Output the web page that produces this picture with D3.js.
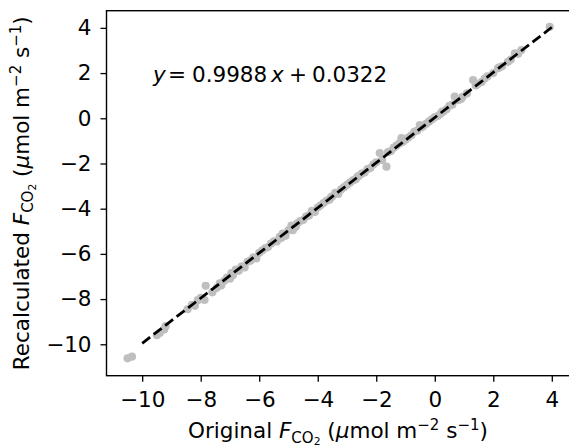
<!DOCTYPE html>
<html>
<head>
<meta charset="utf-8">
<script src="https://cdn.jsdelivr.net/npm/d3@7"></script>
<style>
  body { margin: 0; background: #fff; }
  svg { display: block; font-family: "DejaVu Sans", sans-serif; }
</style>
</head>
<body>
<svg id="chart" width="569" height="447"></svg>
<script>
// original vs recalculated flux
const origX = [
  -10.5, -10.35, -9.5, -9.4, -9.25, -9.2, -8.45, -8.3, -8.2, -8.1, -8.0,
  -7.83, -7.87, -7.6, -7.45, -7.35, -7.3, -7.2, -7.1, -7.0, -6.95, -6.9, -6.8,
  -6.7, -6.6, -6.5, -6.4, -6.3, -6.2, -6.1, -6.0, -5.9, -5.8, -5.7, -5.6,
  -5.5, -5.4, -5.3, -5.25, -5.2, -5.1, -5.0, -4.9, -4.85, -4.75, -4.7, -4.6, -4.5, -4.4,
  -4.3, -4.2, -4.1, -4.0, -3.9, -3.8, -3.7, -3.6, -3.55, -3.5, -3.4, -3.3, -3.2,
  -3.1, -3.0, -2.9, -2.8, -2.7, -2.65, -2.6, -2.5, -2.4, -2.3, -2.2, -2.1, -2.0,
  -1.88, -1.8, -1.65, -1.6, -1.5, -1.4, -1.3, -1.2, -1.14, -1.1, -1.0, -0.9,
  -0.8, -0.7, -0.6, -0.51, -0.45, -0.4, -0.3, -0.2, -0.1, 0.0, 0.1, 0.2, 0.25, 0.3,
  0.4, 0.5, 0.6, 0.68, 0.8, 0.9, 0.95, 1.1, 1.31, 1.4, 1.45, 1.6, 1.7, 1.8, 2.0, 2.16,
  2.2, 2.3, 2.5, 2.6, 2.74, 2.85, 2.96, 3.93
];
const recalcY = [
  -10.62, -10.55, -9.6, -9.5, -9.35, -9.2, -8.45, -8.25, -8.3, -8.05, -7.95,
  -7.41, -8.04, -7.7, -7.5, -7.3, -7.4, -7.2, -7.05, -7.1, -6.85, -6.95, -6.7,
  -6.75, -6.55, -6.6, -6.35, -6.3, -6.15, -6.2, -5.95, -5.85, -5.75, -5.7, -5.55,
  -5.45, -5.45, -5.25, -5.3, -5.1, -5.2, -4.95, -4.75, -4.95, -4.8, -4.65, -4.55, -4.5, -4.35,
  -4.3, -4.1, -4.15, -3.95, -3.85, -3.75, -3.65, -3.6, -3.5, -3.45, -3.3, -3.35, -3.15,
  -3.05, -2.95, -2.85, -2.75, -2.7, -2.6, -2.55, -2.45, -2.4, -2.25, -2.2, -2.05, -1.95,
  -1.54, -1.85, -2.14, -1.5, -1.45, -1.3, -1.2, -1.1, -0.88, -1.05, -0.95, -0.85,
  -0.75, -0.6, -0.55, -0.3, -0.4, -0.35, -0.25, -0.15, -0.05, 0.05, 0.1, 0.2, 0.3, 0.3,
  0.4, 0.55, 0.6, 0.96, 0.8, 0.85, 0.95, 1.1, 1.69, 1.45, 1.5, 1.6, 1.75, 1.85, 2.0, 2.21,
  2.25, 2.3, 2.5, 2.6, 2.87, 2.85, 3.02, 4.05
];
const xTicks = [-10, -8, -6, -4, -2, 0, 2, 4];
const yTicks = [-10, -8, -6, -4, -2, 0, 2, 4];
const fitSlope = 0.9988;
const fitIntercept = 0.0322;
const fitRange = [-10, 4];

const svg = d3.select('#chart');
const m = { left: 106.5, right: 571.4, top: 10.7, bottom: 375.7 };
const fs = 21.5;

const x = d3.scaleLinear().domain([-11.22, 4.67]).range([m.left, m.right]);
const y = d3.scaleLinear().domain([-11.39, 4.76]).range([m.bottom, m.top]);

// points
svg.append('g')
  .selectAll('circle')
  .data(origX.map((v, i) => [v, recalcY[i]]))
  .join('circle')
  .attr('cx', d => x(d[0]))
  .attr('cy', d => y(d[1]))
  .attr('r', 4.1)
  .attr('fill', '#bfbfbf');

// fitted line
svg.append('line')
  .attr('x1', x(fitRange[0]))
  .attr('y1', y(fitSlope * fitRange[0] + fitIntercept))
  .attr('x2', x(fitRange[1]))
  .attr('y2', y(fitSlope * fitRange[1] + fitIntercept))
  .attr('stroke', '#000')
  .attr('stroke-width', 2.8)
  .attr('stroke-dasharray', '10,4.5');

// axes
const xAxis = svg.append('g')
  .attr('transform', `translate(0,${m.bottom})`)
  .call(d3.axisBottom(x).tickValues(xTicks).tickSize(6).tickPadding(10).tickFormat(d3.format('d')));
const yAxis = svg.append('g')
  .attr('transform', `translate(${m.left},0)`)
  .call(d3.axisLeft(y).tickValues(yTicks).tickSize(6).tickPadding(9).tickFormat(d3.format('d')));

[xAxis, yAxis].forEach(a => {
  a.select('.domain').remove();
  a.selectAll('line').attr('stroke', '#000').attr('stroke-width', 1.3);
  a.selectAll('text').attr('fill', '#000').style('font-size', fs + 'px')
    .style('font-family', '"DejaVu Sans", sans-serif');
});

// frame
svg.append('rect')
  .attr('x', m.left).attr('y', m.top)
  .attr('width', m.right - m.left).attr('height', m.bottom - m.top)
  .attr('fill', 'none').attr('stroke', '#000').attr('stroke-width', 1.4);

// equation, mathtext style spacing
const eq = svg.append('text')
  .attr('y', 82)
  .style('font-size', fs + 'px');
eq.append('tspan').attr('x', 153).style('font-style', 'italic').text('y');
eq.append('tspan').attr('x', 168).text('=');
eq.append('tspan').attr('x', 192).text('0.9988');
eq.append('tspan').attr('x', 271).style('font-style', 'italic').text('x');
eq.append('tspan').attr('x', 289).text('+');
eq.append('tspan').attr('x', 312).text('0.0322');

// label with F_CO2 and units
const small = (fs * 0.7).toFixed(1) + 'px';
const tiny = (fs * 0.5).toFixed(1) + 'px';
let addLabel = (g) => {
  g.append('tspan').style('font-style', 'italic').text('F');
  g.append('tspan').attr('dy', 4.5).style('font-size', small).text('CO');
  g.append('tspan').attr('dy', 2.5).style('font-size', tiny).text('2');
  g.append('tspan').attr('dy', -7).text(' (');
  g.append('tspan').style('font-style', 'italic').text('μ');
  g.append('tspan').text('mol m');
  g.append('tspan').attr('dy', -8).style('font-size', small).text('−2');
  g.append('tspan').attr('dy', 8).text(' s');
  g.append('tspan').attr('dy', -8).style('font-size', small).text('−1');
  g.append('tspan').attr('dy', 8).text(')');
};

const xl = svg.append('text')
  .attr('x', 338).attr('y', 438)
  .attr('text-anchor', 'middle')
  .style('font-size', fs + 'px');
xl.append('tspan').text('Original ');
addLabel(xl);

const yl = svg.append('text')
  .attr('transform', `translate(28.5,${(m.top + m.bottom) / 2}) rotate(-90)`)
  .attr('text-anchor', 'middle')
  .style('font-size', fs + 'px');
yl.append('tspan').text('Recalculated ');
addLabel(yl);
</script>
</body>
</html>
